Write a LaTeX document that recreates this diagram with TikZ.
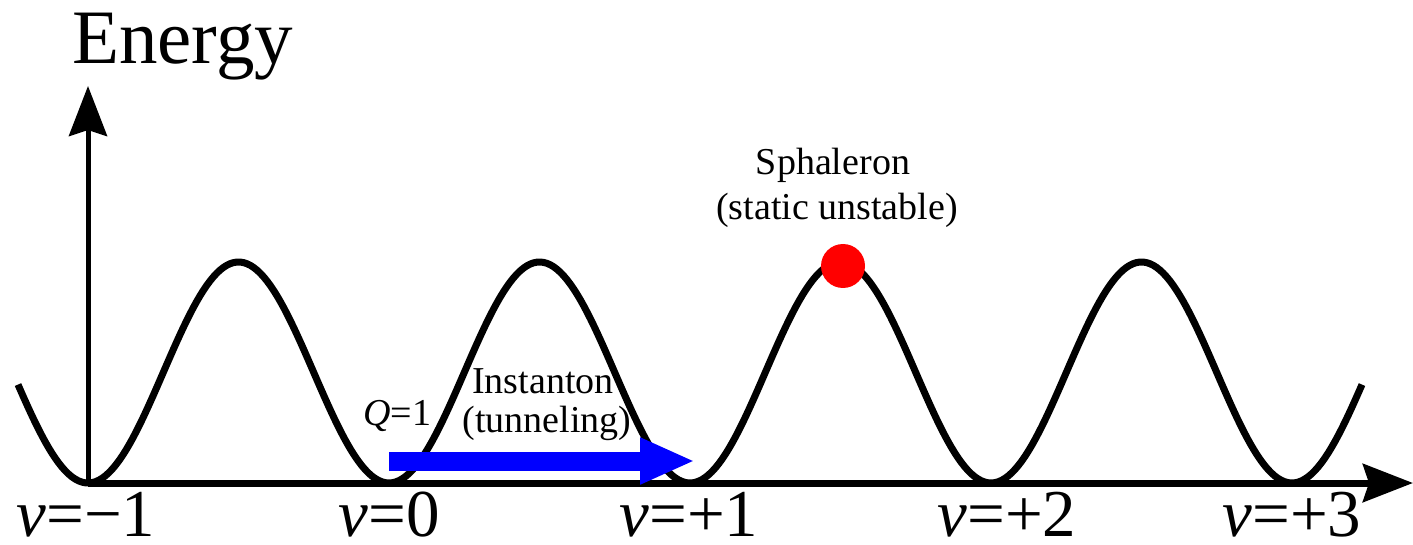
\documentclass[tikz,border=0pt]{standalone}
\usepackage{fontspec}
\setmainfont{Liberation Serif}
\usetikzlibrary{arrows.meta}
\tikzset{
  axisline/.style={line width=5pt, -{Stealth[length=50pt,width=38pt,inset=6pt]}},
  wave/.style={line width=7pt},
  lbl/.style={inner sep=0pt, anchor=base, font=\fontsize{38}{45}\selectfont},
  nulbl/.style={inner sep=0pt, anchor=base, font=\fontsize{67}{70}\selectfont},
}
\begin{document}
\begin{tikzpicture}[x=1pt,y=-1pt]
\useasboundingbox (0,0) rectangle (1413,545);
% axes
\coordinate (O) at (88,483);
\coordinate (ytop) at (88,86);
\coordinate (xend) at (1413,483);
\draw[axisline] (O) -- (ytop);
\draw[axisline, line width=7pt] (O) -- (xend);
% potential
\draw[wave] plot[domain=18:1362, samples=400] (\x, {483-110.5*(1-cos((\x-88)*1.19601))});
% labels
\node[inner sep=0pt, anchor=base west, font=\fontsize{77}{80}\selectfont] (energy) at (72,64) {Energy};
\node[nulbl] (n1) at (86,536) {{\itshape ν}=−1};
\node[nulbl] (n2) at (389,536) {{\itshape ν}=0};
\node[nulbl] (n3) at (689,536) {{\itshape ν}=+1};
\node[nulbl] (n4) at (1007,536) {{\itshape ν}=+2};
\node[nulbl] (n5) at (1292,536) {{\itshape ν}=+3};
% sphaleron
\node[circle, fill=red, minimum size=44pt, inner sep=0pt] (sph) at (843,266) {};
\node[lbl] (sphl1) at (833,175) {Sphaleron};
\node[lbl] (sphl2) at (837,220) {(static unstable)};
% instanton
\coordinate (instS) at (389,461);
\coordinate (instE) at (695,461);
\draw[blue, line width=19pt, -{Triangle[length=55pt,width=43pt]}] (instS) -- (instE);
\node[lbl] (inst1) at (543,393) {Instanton};
\node[lbl] (inst2) at (547,432) {(tunneling)};
\node[lbl, anchor=base west] (q) at (363,425) {{\itshape Q}=1};
\end{tikzpicture}
\end{document}
